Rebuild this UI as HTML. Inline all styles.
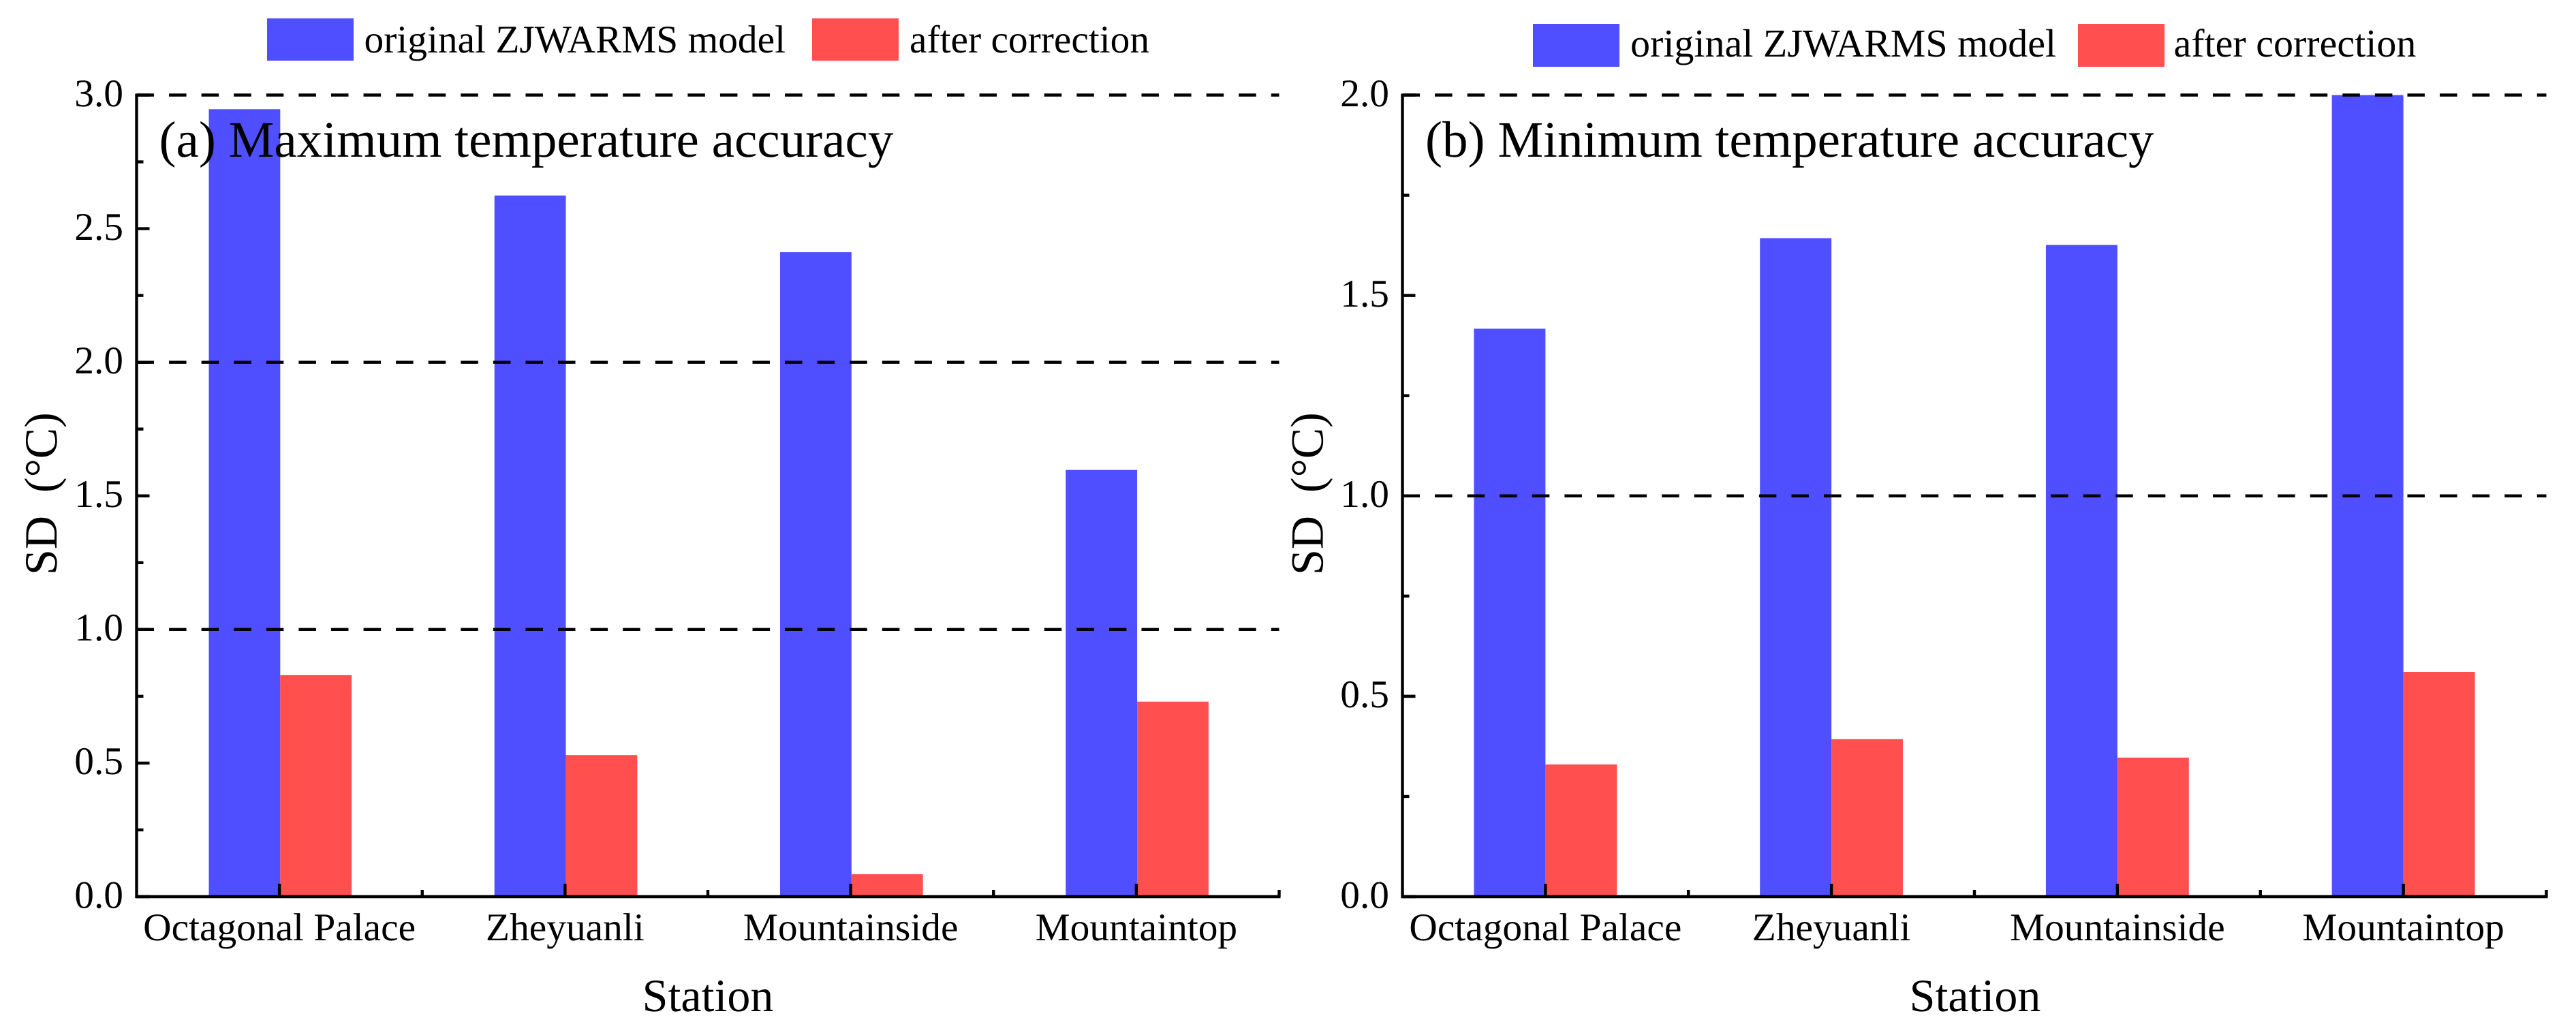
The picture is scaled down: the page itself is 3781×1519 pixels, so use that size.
<!DOCTYPE html>
<html lang="en">
<head>
<meta charset="utf-8">
<title>Temperature accuracy SD chart</title>
<style>
html,body{margin:0;padding:0;background:#fff;width:3781px;height:1519px;overflow:hidden}
svg{display:block}
text{font-family:"Liberation Serif","Times New Roman",serif;fill:#000;text-rendering:geometricPrecision}
.leg{font-size:57.4px}
.legb{font-size:58px}
.ttl{font-size:75.1px}
.axt{font-size:68px}
</style>
</head>
<body>
<svg id="figure" xmlns="http://www.w3.org/2000/svg" width="3781" height="1519" viewBox="0 0 3781 1519">
  <rect x="0" y="0" width="3781" height="1519" fill="#fff"/>
  <g id="panel-a"></g>
  <g id="panel-b"></g>

  <g>
    <rect x="392" y="27" width="127" height="62" fill="#4f4fff"/>
    <text class="leg" x="534.5" y="77">original ZJWARMS model</text>
    <rect x="1192" y="27" width="127" height="62" fill="#ff4f4f"/>
    <text class="leg" x="1335" y="77">after correction</text>
  </g>
  <g>
    <rect x="2250" y="35" width="127" height="63" fill="#4f4fff"/>
    <text class="legb" x="2393" y="83">original ZJWARMS model</text>
    <rect x="3050" y="35" width="127" height="63" fill="#ff4f4f"/>
    <text class="legb" x="3190.5" y="83">after correction</text>
  </g>

  <text id="title-a" class="ttl" x="233.5" y="230">(a) Maximum temperature accuracy</text>
  <text id="title-b" class="ttl" x="2092" y="230">(b) Minimum temperature accuracy</text>

  <text class="axt" transform="translate(83,844) rotate(-90)" xml:space="preserve">SD  (°C)</text>
  <text class="axt" transform="translate(1941.7,844) rotate(-90)" xml:space="preserve">SD  (°C)</text>
  <text class="axt" x="1039" y="1484" text-anchor="middle">Station</text>
  <text class="axt" x="2899" y="1484" text-anchor="middle">Station</text>
</svg>

<script>
const categories = ["Octagonal Palace", "Zheyuanli", "Mountainside", "Mountaintop"];
const originalMax = [2.947, 2.624, 2.412, 1.597];
const correctedMax = [0.829, 0.53, 0.084, 0.73];
const originalMin = [1.417, 1.643, 1.626, 2.0];
const correctedMin = [0.33, 0.393, 0.347, 0.561];
const tickLabelsMax = ["0.0", "0.5", "1.0", "1.5", "2.0", "2.5", "3.0"];
const tickLabelsMin = ["0.0", "0.5", "1.0", "1.5", "2.0"];
const referenceLinesMax = [1, 2, 3];
const referenceLinesMin = [1, 2];

const SVG_NS = "http://www.w3.org/2000/svg";

function make(tag, attrs, parent) {
  const el = document.createElementNS(SVG_NS, tag);
  for (const k in attrs) el.setAttribute(k, attrs[k]);
  parent.appendChild(el);
  return el;
}

function drawPanel(root, left, right, barShift, original, corrected, tickLabels, refLines) {
  const top = 139.5;
  const bottom = 1316;
  const yMax = parseFloat(tickLabels[tickLabels.length - 1]);
  const slot = (right - left) / categories.length;
  const barWidth = slot * 0.25;
  const xCenter = (i) => left + (i + 0.5) * slot;
  const yPos = (v) => bottom - (v / yMax) * (bottom - top);

  categories.forEach((name, i) => {
    const blue = make("rect", {
      x: xCenter(i) + barShift - barWidth, y: yPos(original[i]),
      width: barWidth, height: bottom - yPos(original[i]), fill: "#4f4fff"
    }, root);
    
    

    const red = make("rect", {
      x: xCenter(i) + barShift, y: yPos(corrected[i]),
      width: barWidth, height: bottom - yPos(corrected[i]), fill: "#ff4f4f"
    }, root);
    
    
  });

  refLines.forEach((v) => {
    const dash = make("line", {
      x1: left, x2: right, y1: yPos(v), y2: yPos(v),
      stroke: "#000", "stroke-width": 4.4, "stroke-dasharray": "25.5 22.08"
    }, root);
    
    
  });

  const yAxis = make("line", {
    x1: left, x2: left, y1: top - 2, y2: bottom + 2, stroke: "#000", "stroke-width": 4.4
  }, root);
  
  

  const xAxis = make("line", {
    x1: left - 2, x2: right + 2, y1: bottom, y2: bottom, stroke: "#000", "stroke-width": 4.4
  }, root);
  
  

  tickLabels.forEach((label, i) => {
    const v = parseFloat(label);
    const major = make("line", {
      x1: left, x2: left + 19, y1: yPos(v), y2: yPos(v), stroke: "#000", "stroke-width": 4.4
    }, root);
    
    

    const text = make("text", {
      x: left - 19.5, y: yPos(v) + 16.3, "text-anchor": "end", "font-size": 57.4
    }, root);
    text.textContent = label;
    
    

    if (i < tickLabels.length - 1) {
      const mid = (v + parseFloat(tickLabels[i + 1])) / 2;
      const minor = make("line", {
        x1: left, x2: left + 10, y1: yPos(mid), y2: yPos(mid), stroke: "#000", "stroke-width": 4.4
      }, root);
      
      
    }
  });

  categories.forEach((name, i) => {
    const major = make("line", {
      x1: xCenter(i), x2: xCenter(i), y1: bottom, y2: bottom - 19, stroke: "#000", "stroke-width": 4.4
    }, root);
    
    

    const boundary = left + (i + 1) * slot;
    const minor = make("line", {
      x1: boundary, x2: boundary, y1: bottom, y2: bottom - 10, stroke: "#000", "stroke-width": 4.4
    }, root);
    
    

    const text = make("text", {
      x: xCenter(i), y: 1380, "text-anchor": "middle", "font-size": 57.4
    }, root);
    text.textContent = name;
    
    
  });
}

drawPanel(document.getElementById("panel-a"), 200.5, 1877.5, 1.2, originalMax, correctedMax, tickLabelsMax, referenceLinesMax);
drawPanel(document.getElementById("panel-b"), 2058.5, 3737.5, 0, originalMin, correctedMin, tickLabelsMin, referenceLinesMin);
</script>
</body>
</html>
